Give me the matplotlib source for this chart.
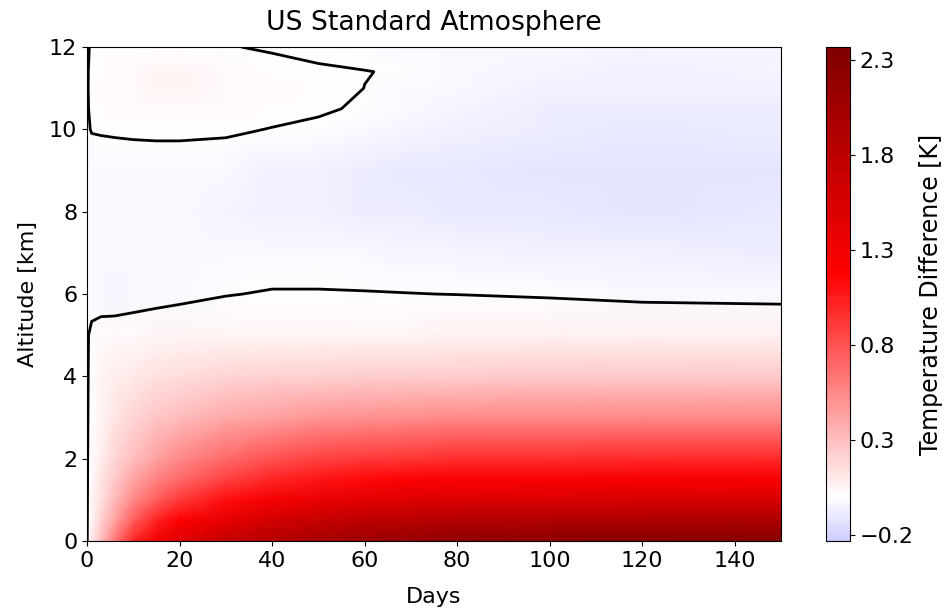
import numpy as np
import matplotlib.pyplot as plt
from matplotlib.colors import ListedColormap

plt.rcParams["font.size"] = 16

# grid: columns are days, rows are altitudes (km)
days = [0, 1, 3, 6, 10, 15, 20, 30, 40, 50, 60, 70, 80, 100, 120, 150]
altitudes = [0, 0.5, 1, 1.5, 2, 3, 4, 5, 6, 7, 8, 9, 10, 10.5, 11, 11.4, 12]

temp_diff = [
    [-0.005, 0.10, 0.30, 0.62, 1.00, 1.30, 1.48, 1.72, 1.88, 2.00, 2.10, 2.16, 2.20, 2.25, 2.28, 2.30],
    [-0.005, 0.06, 0.21, 0.45, 0.76, 1.02, 1.20, 1.42, 1.58, 1.70, 1.79, 1.85, 1.89, 1.92, 1.94, 1.95],
    [-0.005, 0.045, 0.15, 0.33, 0.55, 0.76, 0.92, 1.12, 1.27, 1.37, 1.44, 1.48, 1.51, 1.53, 1.55, 1.55],
    [-0.005, 0.035, 0.12, 0.25, 0.42, 0.58, 0.70, 0.88, 1.00, 1.09, 1.15, 1.19, 1.21, 1.23, 1.25, 1.25],
    [-0.005, 0.03, 0.09, 0.19, 0.31, 0.45, 0.55, 0.70, 0.80, 0.87, 0.91, 0.94, 0.96, 0.97, 0.98, 0.98],
    [-0.005, 0.02, 0.06, 0.12, 0.19, 0.26, 0.31, 0.39, 0.45, 0.49, 0.52, 0.54, 0.55, 0.56, 0.56, 0.56],
    [-0.005, 0.015, 0.045, 0.08, 0.11, 0.14, 0.16, 0.19, 0.21, 0.225, 0.235, 0.24, 0.245, 0.25, 0.25, 0.25],
    [-0.005, 0.01, 0.03, 0.035, 0.04, 0.045, 0.05, 0.055, 0.058, 0.06, 0.062, 0.063, 0.065, 0.066, 0.068, 0.07],
    [-0.005, -0.02, -0.037, -0.04, -0.033, -0.024, -0.017, -0.003, 0.005, 0.005, 0.003, 0.001, -0.001, -0.007, -0.017, -0.023],
    [-0.005, -0.02, -0.03, -0.035, -0.035, -0.033, -0.03, -0.03, -0.037, -0.037, -0.036, -0.04, -0.045, -0.055, -0.065, -0.07],
    [-0.005, -0.02, -0.03, -0.035, -0.035, -0.035, -0.035, -0.04, -0.05, -0.06, -0.07, -0.08, -0.09, -0.10, -0.11, -0.105],
    [-0.005, -0.02, -0.025, -0.03, -0.03, -0.03, -0.03, -0.035, -0.05, -0.065, -0.08, -0.09, -0.10, -0.11, -0.115, -0.11],
    [-0.005, 0.0022, 0.0044, 0.0075, 0.01, 0.0117, 0.0117, 0.009, -0.002, -0.015, -0.03, -0.045, -0.06, -0.085, -0.09, -0.085],
    [-0.005, 0.01, 0.018, 0.025, 0.03, 0.033, 0.034, 0.03, 0.018, 0.01, -0.01, -0.03, -0.045, -0.07, -0.075, -0.07],
    [-0.005, 0.015, 0.025, 0.035, 0.042, 0.047, 0.048, 0.04, 0.03, 0.015, -0.0003, -0.02, -0.035, -0.055, -0.06, -0.055],
    [-0.005, 0.013, 0.023, 0.033, 0.041, 0.046, 0.047, 0.037, 0.012, 0.005, 0.001, -0.004, -0.03, -0.045, -0.05, -0.045],
    [-0.005, 0.005, 0.01, 0.015, 0.02, 0.02, 0.018, 0.002, -0.004, -0.01, -0.015, -0.02, -0.025, -0.035, -0.04, -0.04],
]

cbar_ticks = [-0.2, 0.3, 0.8, 1.3, 1.8, 2.3]
VMIN, VMAX = -0.23, 2.37

T = np.array(temp_diff)

fig = plt.figure(figsize=(9.5, 6.09), dpi=100)
ax = fig.add_axes([0.0916, 0.1117, 0.7305, 0.8111])
cax = fig.add_axes([0.869, 0.1117, 0.0253, 0.8111])

# seismic centred on zero, keeping only the part the data covers
seismic = plt.get_cmap("seismic")
lo = 0.5 + VMIN / (2 * VMAX)
cmap = ListedColormap(seismic(np.linspace(lo, 1.0, 256)))

mesh = ax.pcolormesh(days, altitudes, T, cmap=cmap, vmin=VMIN, vmax=VMAX, shading="gouraud")
ax.contour(days, altitudes, T, levels=[0], colors="black", linewidths=2)

ax.set_xlim(0, 150)
ax.set_ylim(0, 12)
ax.set_xlabel("Days", labelpad=12)
ax.set_ylabel("Altitude [km]", labelpad=8)
ax.set_title("US Standard Atmosphere", pad=12)

cb = fig.colorbar(mesh, cax=cax, ticks=cbar_ticks)
cb.set_label("Temperature Difference [K]", fontsize=17)

fig.savefig("out.png", dpi=100)
